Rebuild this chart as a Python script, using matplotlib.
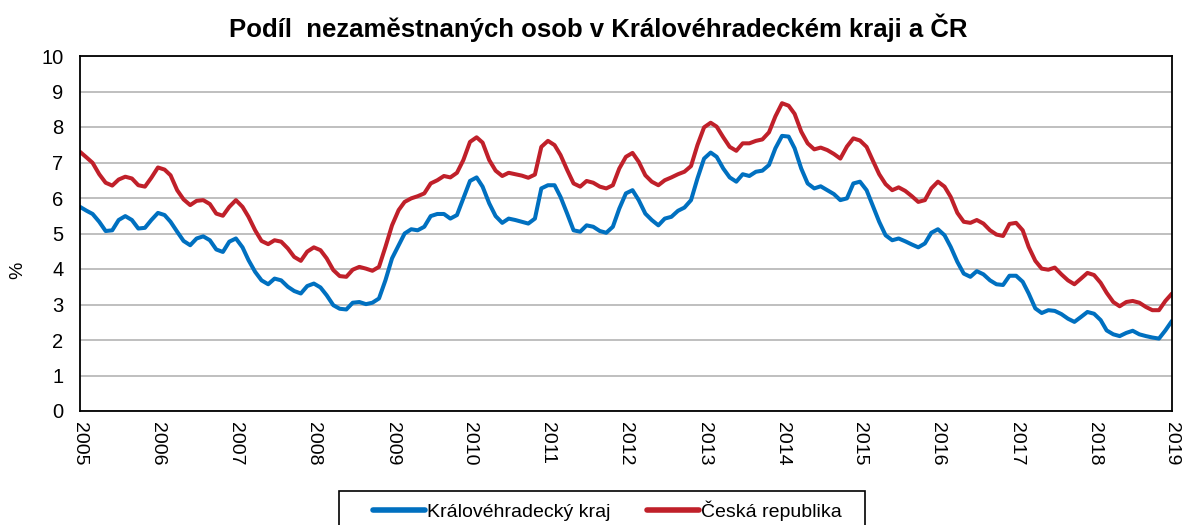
import matplotlib
matplotlib.use("Agg")
import matplotlib.pyplot as plt
from matplotlib.patches import Rectangle
import pandas as pd

plt.rcParams['font.family'] = ['Liberation Sans', 'DejaVu Sans']

# monthly values, Jan 2005 .. Jan 2019
months = pd.date_range('2005-01-01', '2019-01-01', freq='MS')

hk_kraj = [
    5.75, 5.64, 5.55, 5.33, 5.07, 5.09, 5.38, 5.49, 5.38, 5.14, 5.16, 5.38,
    5.58, 5.52, 5.33, 5.05, 4.79, 4.67, 4.86, 4.92, 4.81, 4.55, 4.48, 4.77,
    4.86, 4.61, 4.25, 3.92, 3.68, 3.57, 3.73, 3.68, 3.50, 3.38, 3.31, 3.52,
    3.59, 3.48, 3.26, 2.98, 2.88, 2.86, 3.05, 3.07, 3.01, 3.05, 3.17, 3.68,
    4.30, 4.67, 5.00, 5.12, 5.09, 5.19, 5.49, 5.55, 5.55, 5.42, 5.52, 5.99,
    6.48, 6.58, 6.32, 5.85, 5.49, 5.30, 5.42, 5.38, 5.33, 5.28, 5.42, 6.27,
    6.36, 6.36, 6.03, 5.56, 5.09, 5.05, 5.23, 5.19, 5.07, 5.02, 5.19, 5.70,
    6.13, 6.22, 5.94, 5.56, 5.38, 5.23, 5.42, 5.47, 5.64, 5.73, 5.94, 6.55,
    7.11, 7.28, 7.16, 6.83, 6.58, 6.46, 6.67, 6.62, 6.74, 6.77, 6.93, 7.40,
    7.75, 7.73, 7.40, 6.83, 6.41, 6.27, 6.33, 6.22, 6.11, 5.94, 5.99, 6.41,
    6.46, 6.22, 5.80, 5.33, 4.95, 4.81, 4.86, 4.78, 4.69, 4.61, 4.72, 5.02,
    5.12, 4.95, 4.62, 4.20, 3.87, 3.78, 3.94, 3.85, 3.68, 3.57, 3.55, 3.81,
    3.81, 3.64, 3.31, 2.89, 2.76, 2.84, 2.82, 2.73, 2.60, 2.51, 2.65, 2.79,
    2.74, 2.56, 2.27, 2.16, 2.11, 2.20, 2.26, 2.16, 2.11, 2.07, 2.04, 2.27,
    2.54,
]

cr = [
    7.30, 7.14, 6.99, 6.67, 6.43, 6.35, 6.52, 6.60, 6.55, 6.36, 6.32, 6.57,
    6.86, 6.80, 6.64, 6.22, 5.96, 5.80, 5.92, 5.94, 5.83, 5.56, 5.50, 5.75,
    5.94, 5.75, 5.47, 5.09, 4.79, 4.70, 4.81, 4.77, 4.58, 4.34, 4.23, 4.49,
    4.61, 4.53, 4.30, 3.97, 3.80, 3.78, 3.98, 4.06, 4.01, 3.95, 4.06, 4.62,
    5.23, 5.66, 5.89, 5.99, 6.05, 6.13, 6.41, 6.50, 6.62, 6.58, 6.71, 7.07,
    7.58, 7.71, 7.56, 7.07, 6.77, 6.62, 6.71, 6.67, 6.63, 6.57, 6.66, 7.44,
    7.61, 7.49, 7.21, 6.79, 6.41, 6.32, 6.48, 6.43, 6.32, 6.27, 6.36, 6.83,
    7.16, 7.27, 7.02, 6.64, 6.46, 6.36, 6.50, 6.58, 6.67, 6.74, 6.90, 7.49,
    7.99, 8.12, 8.01, 7.71, 7.44, 7.33, 7.54, 7.54, 7.61, 7.65, 7.85, 8.30,
    8.67, 8.60, 8.37, 7.87, 7.54, 7.37, 7.42, 7.35, 7.24, 7.11, 7.45, 7.68,
    7.62, 7.44, 7.07, 6.67, 6.39, 6.22, 6.30, 6.20, 6.05, 5.89, 5.94, 6.27,
    6.46, 6.32, 6.03, 5.58, 5.33, 5.30, 5.38, 5.28, 5.09, 4.97, 4.93, 5.27,
    5.30, 5.09, 4.62, 4.23, 4.01, 3.98, 4.04, 3.85, 3.68, 3.57, 3.73, 3.89,
    3.83, 3.61, 3.33, 3.07, 2.95, 3.07, 3.10, 3.05, 2.93, 2.84, 2.84, 3.10,
    3.31,
]

years = list(range(2005, 2020))
series_names = ['Královéhradecký kraj', 'Česká republika']

W, H = 1182, 525
fig = plt.figure(figsize=(W / 100, H / 100), dpi=100)
ax = fig.add_axes([80 / W, 1 - 411 / H, (1172 - 80) / W, (411 - 56) / H])

ax.plot(months, hk_kraj, color='#0070C0', lw=2.9, label=series_names[0],
        solid_joinstyle='round', solid_capstyle='round')
ax.plot(months, cr, color='#C0202A', lw=2.9, label=series_names[1],
        solid_joinstyle='round', solid_capstyle='round')

ax.set_ylim(0, 10)
ax.set_yticks(range(0, 11))
ax.set_xlim(months[0], months[-1])
ax.set_xticks([pd.Timestamp(f'{y}-01-01') for y in years])
ax.set_xticklabels([str(y) for y in years], rotation=270, fontsize=14)
ax.tick_params(axis='y', length=0, pad=12, labelsize=14.5)
ax.tick_params(axis='x', length=0, pad=8)

ax.grid(axis='y', color='#BFBFBF', lw=1.4)
ax.set_axisbelow(True)
for s in ax.spines.values():
    s.set_color('black')
    s.set_linewidth(1.3)

fig.text(598 / W, 1 - 28 / H, 'Podíl  nezaměstnaných osob v Královéhradeckém kraji a ČR',
         ha='center', va='center', fontsize=18.5, fontweight='bold')
fig.text(18 / W, 1 - 270 / H, '%', rotation=90, ha='center', va='center', fontsize=14)

# legend box runs off the bottom edge of the picture
box = Rectangle((339 / W, -0.2), (865 - 339) / W, 0.2 + 1 - 491 / H,
                transform=fig.transFigure, fill=False, edgecolor='black', lw=1.2)
fig.patches.append(box)

leg = fig.legend(loc='center left', bbox_to_anchor=(373 / W, 1 - 511 / H),
                 bbox_transform=fig.transFigure, ncol=2, fontsize=14,
                 frameon=False, handlelength=2.68, handletextpad=0.1,
                 columnspacing=1.85, borderpad=0, borderaxespad=0)
for line in leg.get_lines():
    line.set_linewidth(4)

fig.savefig('out.png', dpi=100)
